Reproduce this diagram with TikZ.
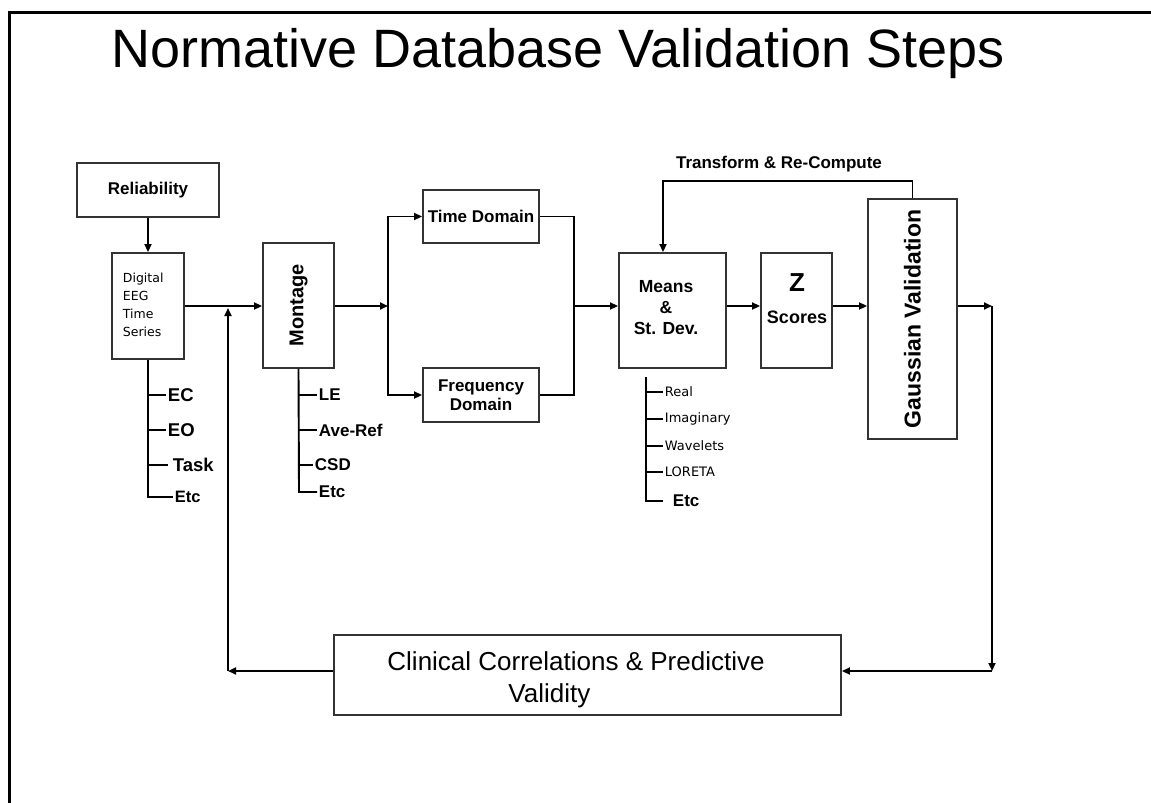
\documentclass[tikz,border=0pt]{standalone}
\usepackage{graphicx}
\usepackage{fontspec}
\setmainfont{Liberation Sans}
\newfontfamily\smallsans{DejaVu Sans}
\usepackage{tikz}
\usetikzlibrary{
    calc,
    arrows.meta
}
\tikzset{
    blk/.style={draw=black!80,inner sep=0pt,align=center,font=\bfseries\fontsize{17}{20}\selectfont},
    itm/.style={anchor=west,inner sep=1pt,font=\bfseries\fontsize{17}{20}\selectfont},
    itmbig/.style={itm,font=\bfseries\fontsize{18.5}{20}\selectfont},
    sml/.style={anchor=west,inner sep=1pt,font=\smallsans\fontsize{13}{15}\selectfont}
}

\begin{document}
\begin{tikzpicture}[x=1pt,y=-1pt,line width=1.9pt,>={Triangle[length=8pt,width=7pt]}]
        \useasboundingbox (0,0) rectangle (1151,803);
        \draw[line width=3pt] (9,803) -- (9,12) -- (1151,12);
        \draw (558,54) node(title){\fontsize{54}{60}\selectfont Normative Database Validation Steps};

        \begin{scope}
            \draw (148,190)     node[blk,minimum width=142pt,minimum height=54pt](rel){Reliability};
            \draw (148,306)     node[blk,minimum width=72pt,minimum height=106pt](eeg){};
            \draw (122,272)     node[anchor=north west,inner sep=0pt,align=left,font=\smallsans\fontsize{12.5}{18}\selectfont](eegtxt){Digital\\EEG\\Time\\Series};
            \draw (298.5,305.5) node[blk,minimum width=71pt,minimum height=125pt](mont){\rotatebox{90}{\fontsize{20}{20}\selectfont Montage}};
            \draw (481,216.5)   node[blk,minimum width=116pt,minimum height=53pt](time){Time Domain};
            \draw (481,395)     node[blk,minimum width=116pt,minimum height=54pt,font=\bfseries\fontsize{17}{19}\selectfont](freq){Frequency\\Domain};
            \draw (672.5,310.5) node[blk,minimum width=107pt,minimum height=115pt](means){};
            \draw (666,308)     node[align=center,font=\bfseries\fontsize{17.5}{21}\selectfont](mtxt){Means\\\&\\St. Dev.};
            \draw (796.5,310.5) node[blk,minimum width=71pt,minimum height=115pt](zsc){};
            \draw (797,283)     node[font=\bfseries\fontsize{26}{26}\selectfont](ztxt){Z};
            \draw (797,317)     node[font=\bfseries\fontsize{18}{20}\selectfont](stxt){Scores};
            \draw (912.5,319)   node[blk,minimum width=89pt,minimum height=240pt](gauss){\rotatebox{90}{\fontsize{23}{23}\selectfont Gaussian Validation}};
            \draw (587.5,675)   node[blk,minimum width=507pt,minimum height=80pt](clin){};
            \draw (576,680)     node[align=left,font=\fontsize{26}{32}\selectfont](clintxt){Clinical Correlations \& Predictive\\\hspace*{121pt}Validity};
        \end{scope}

        \coordinate (jn) at (228,306);
        \coordinate (lp) at (228,671);
        \coordinate (sp) at (388,306);
        \coordinate (mg) at (574,306);
        \coordinate (rt) at (992,306);
        \coordinate (rb) at (992,671);
        \coordinate (fb) at (663,181);

        \draw[->] (rel) -- (eeg);
        \draw[->] (eeg.east |- jn) -- (mont.west |- jn);
        \draw[->] (clin.west |- lp) -- (lp);
        \draw[->,shorten >=2pt] (lp) -- (jn);
        \draw[->] (mont.east |- sp) -- (sp);
        \draw[->] (sp) |- (time.west);
        \draw[->] (sp) |- (freq.west);
        \draw (time.east) -| (mg) |- (freq.east);
        \draw[->] (mg) -- (means.west |- mg);
        \draw[->] (means.east |- mg) -- (zsc.west |- mg);
        \draw[->] (zsc.east |- mg) -- (gauss.west |- mg);
        \draw[->] (gauss.east |- rt) -- (rt);
        \draw[->] (rt) -- (rb);
        \draw[->] (rb) -- (clin.east |- rb);
        \draw[->] (gauss.north) |- (fb) -- (fb |- means.north);
        \draw (779,164) node[font=\bfseries\fontsize{17}{20}\selectfont](fblbl){Transform \& Re-Compute};

        \draw (eeg.south) -- (148,497) -- (173,497) node[itm,font=\bfseries\fontsize{16.5}{20}\selectfont](eegetc){Etc};
        \draw (148,395) -- (166,395) node[itmbig](ec){EC};
        \draw (148,430) -- (166,430) node[itmbig](eo){EO};
        \draw (148,465) -- (168,465) node[itmbig,xshift=3pt](task){Task};

        \draw (mont.south) -- (299,492) -- (317,492) node[itm](mntetc){Etc};
        \draw (299,395) -- (317,395) node[itm](le){LE};
        \draw (299,430) -- (317,430) node[itm](averef){Ave-Ref};
        \draw (299,465) -- (313,465) node[itm](csd){CSD};

        \draw (646,377) -- (646,501) -- (663,501) node[itm,xshift=8pt](mnsetc){Etc};
        \foreach \y/\t/\n in {392/Real/re,419/Imaginary/im,446/Wavelets/wv,472/LORETA/lo}
            \draw (646,\y) -- (663,\y) node[sml](\n){\t};
    \end{tikzpicture}
\end{document}
